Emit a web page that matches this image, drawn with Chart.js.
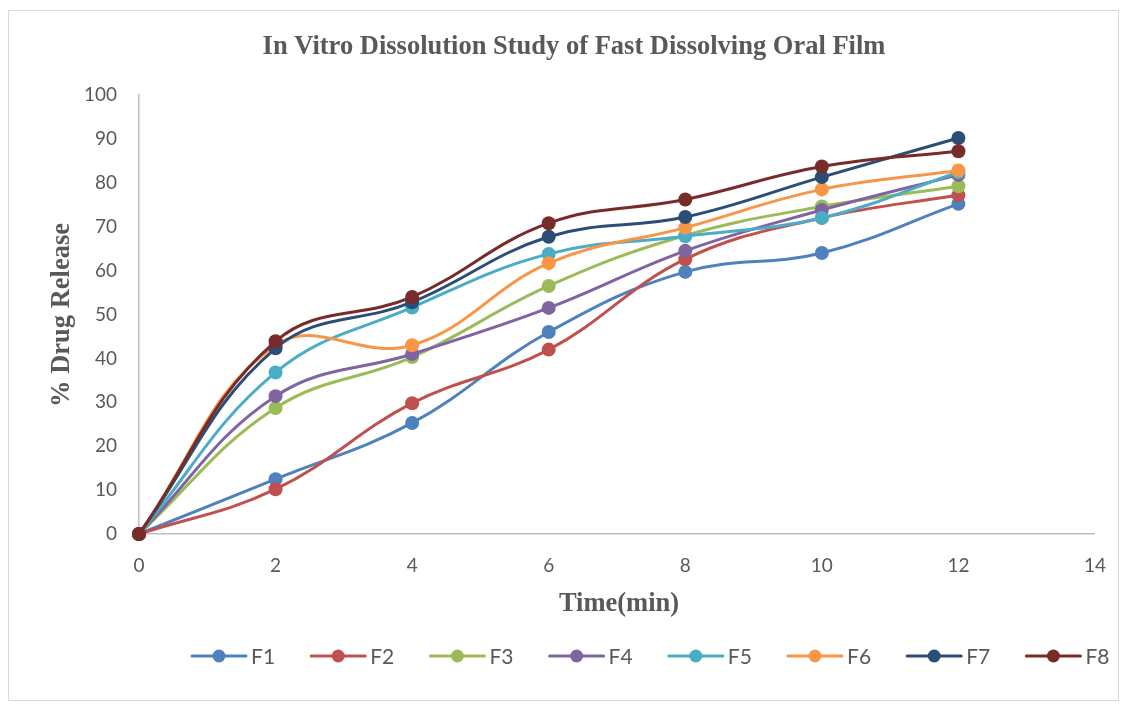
<!DOCTYPE html>
<html><head><meta charset="utf-8">
<script src="https://cdn.jsdelivr.net/npm/chart.js@4/dist/chart.umd.min.js"></script>
<style>html,body{margin:0;padding:0;background:#fff}#wrap{width:1126px;height:704px;position:relative}</style>
</head><body><div id="wrap"><canvas id="c" width="1126" height="704"></canvas></div>
<script>
const times = [0, 2, 4, 6, 8, 10, 12];
const seriesNames = ['F1','F2','F3','F4','F5','F6','F7','F8'];
const F1 = [0, 12.5, 25.3, 46.0, 59.7, 64.0, 75.2];
const F2 = [0, 10.2, 29.8, 42.0, 62.6, 72.0, 77.2];
const F3 = [0, 28.7, 40.3, 56.5, 68.0, 74.6, 79.2];
const F4 = [0, 31.4, 41.0, 51.5, 64.5, 73.8, 81.8];
const F5 = [0, 36.8, 51.6, 63.8, 67.8, 72.0, 82.4];
const F6 = [0, 43.0, 43.0, 61.7, 69.8, 78.5, 82.8];
const F7 = [0, 42.3, 52.8, 67.7, 72.2, 81.3, 90.2];
const F8 = [0, 43.9, 54.0, 70.8, 76.2, 83.7, 87.2];
const colors = ['#4f81bd','#c0504d','#9bbb59','#8064a2','#4bacc6','#f79646','#2c4d75','#772c2a'];
const allSeries = [F1,F2,F3,F4,F5,F6,F7,F8];
const xTicks = [0,2,4,6,8,10,12,14];

const datasets = allSeries.map((vals, i) => ({
  label: seriesNames[i],
  data: vals.map((v, j) => ({x: times[j], y: v})),
  borderColor: colors[i],
  backgroundColor: colors[i],
  borderWidth: 3,
  pointRadius: 7,
  pointHoverRadius: 7,
  pointBorderWidth: 0,
  tension: 0.4,
  clip: false,
  order: seriesNames.length - i
}));

const TXT = '#595959';
const decor = {
  id: 'decor',
  afterDraw(chart) {
    const ctx = chart.ctx;
    ctx.save();
    ctx.strokeStyle = '#d9d9d9'; ctx.lineWidth = 1;
    ctx.strokeRect(8.5, 10.5, 1110, 690);
    ctx.fillStyle = TXT;
    ctx.font = 'bold 26.5px "Liberation Serif", "Times New Roman", serif';
    ctx.textAlign = 'center'; ctx.textBaseline = 'middle';
    ctx.fillText('In Vitro Dissolution Study of Fast Dissolving Oral Film', 574, 47);
    ctx.font = 'bold 26.5px "Liberation Serif", "Times New Roman", serif';
    ctx.fillText('Time(min)', 619, 604);
    ctx.save();
    ctx.translate(62, 315); ctx.rotate(-Math.PI/2);
    ctx.fillText('% Drug Release', 0, 0);
    ctx.restore();
    ctx.font = '21px Lato, "Open Sans", sans-serif';
    ctx.textAlign = 'left';
    chart.data.datasets.forEach((ds, i) => {
      const x0 = 192 + i * 119.2, y = 656;
      ctx.strokeStyle = ds.borderColor; ctx.lineWidth = 3; ctx.lineCap = 'round';
      ctx.beginPath(); ctx.moveTo(x0, y); ctx.lineTo(x0 + 54, y); ctx.stroke();
      ctx.fillStyle = ds.backgroundColor;
      ctx.beginPath(); ctx.arc(x0 + 27, y, 6.5, 0, Math.PI*2); ctx.fill();
      ctx.fillStyle = TXT;
      ctx.fillText(ds.label, x0 + 59, y + 1);
    });
    ctx.restore();
  }
};

new Chart(document.getElementById('c'), {
  type: 'line',
  data: { datasets },
  options: {
    responsive: false,
    animation: false,
    events: [],
    layout: { padding: { top: 95, right: 29, bottom: 0, left: 0 } },
    plugins: { legend: { display: false }, title: { display: false }, tooltip: { enabled: false } },
    scales: {
      x: {
        type: 'linear', min: 0, max: 14,
        afterBuildTicks(s) { s.ticks = xTicks.map(v => ({value: v})); },
        afterFit(s) { s.height = 170; },
        grid: { display: false, drawTicks: false },
        border: { display: true, color: '#bfbfbf', width: 1.5 },
        ticks: { color: TXT, font: { family: 'Lato, "Open Sans", sans-serif', size: 19 }, padding: 20, maxRotation: 0 }
      },
      y: {
        type: 'linear', min: 0, max: 100,
        ticks: { stepSize: 10, color: TXT, font: { family: 'Lato, "Open Sans", sans-serif', size: 19 }, padding: 22 },
        afterFit(s) { s.width = 139; },
        grid: { display: false, drawTicks: false },
        border: { display: true, color: '#bfbfbf', width: 1.5 }
      }
    }
  },
  plugins: [decor]
});
</script>
</body></html>
